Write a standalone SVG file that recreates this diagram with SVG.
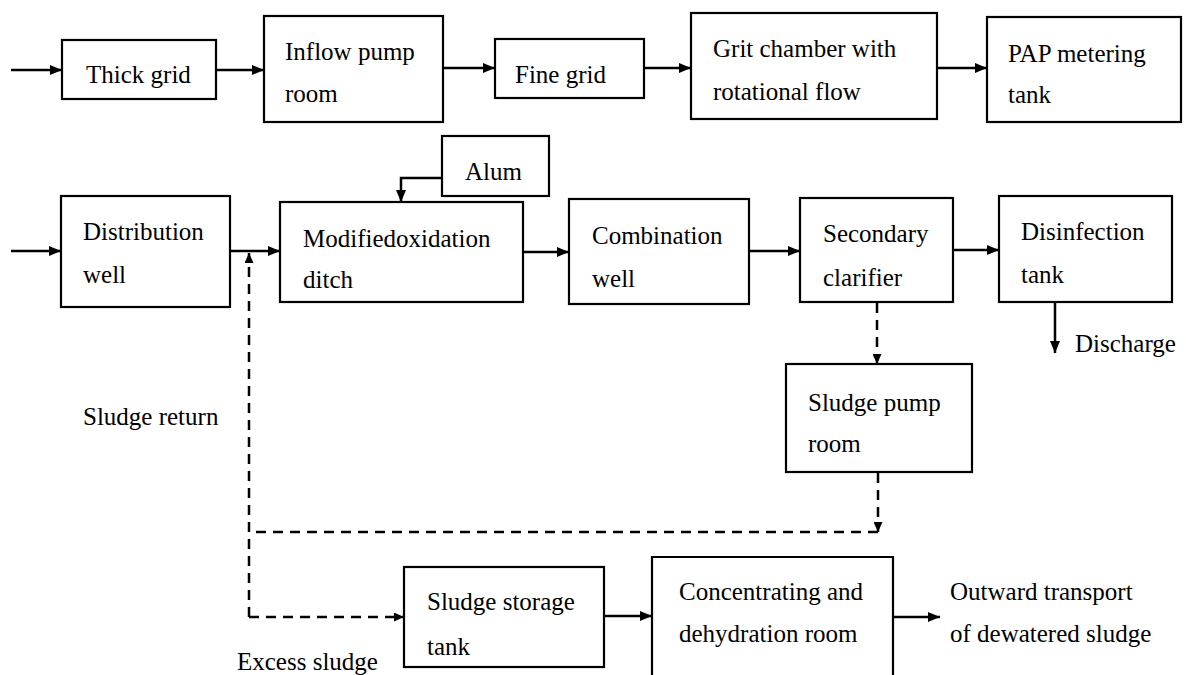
<svg xmlns="http://www.w3.org/2000/svg" width="1186" height="675" viewBox="0 0 1186 675">
<defs>
<marker id="ah" markerUnits="userSpaceOnUse" markerWidth="12" markerHeight="10" refX="12" refY="5" orient="auto">
<path d="M0,0 L12,5 L0,10 z" fill="#000"/>
</marker>
<marker id="ahs" markerUnits="userSpaceOnUse" markerWidth="10" markerHeight="9" refX="10" refY="4.5" orient="auto">
<path d="M0,0 L10,4.5 L0,9 z" fill="#000"/>
</marker>
<style>
.box{fill:#fff;stroke:#000;stroke-width:2.2}
.t{font-family:'Liberation Serif','DejaVu Serif',serif;font-size:25px;fill:#000}
.c{fill:none;stroke:#000;stroke-width:2.5;marker-end:url(#ah)}
.d{fill:none;stroke:#000;stroke-width:2.5;stroke-dasharray:10 7}
.da{fill:none;stroke:#000;stroke-width:2.5;stroke-dasharray:10 7;marker-end:url(#ahs)}
</style>
</defs>
<rect width="1186" height="675" fill="#fff"/>

<g id="connectors">
<path class="c" d="M11,70 H62"/>
<path class="c" d="M216,70 H264"/>
<path class="c" d="M443,68 H495"/>
<path class="c" d="M644,68 H691"/>
<path class="c" d="M937,68 H987"/>
<path class="c" d="M442,178 H401 V202"/>
<path class="c" d="M11,251 H61"/>
<path class="c" d="M230,251 H280"/>
<path class="c" d="M523,252 H569"/>
<path class="c" d="M749,251 H800"/>
<path class="c" d="M953,250 H999"/>
<path class="c" d="M1055,302 V353"/>
<path class="da" d="M877,303 V364"/>
<path class="da" d="M878,473 V532"/>
<path class="d" d="M878,532 H249"/>
<path class="da" d="M249,617 V253"/>
<path class="da" d="M249,617 H404"/>
<path class="c" d="M604,616 H652"/>
<path class="c" d="M893,617 H940"/>
</g>

<g id="thick-grid">
<rect class="box" x="62" y="40" width="154" height="59"/>
<text class="t" font-family="Liberation Serif, serif" x="86" y="83">Thick grid</text>
</g>
<g id="inflow-pump-room">
<rect class="box" x="264" y="16" width="179" height="106"/>
<text class="t" x="285" y="60">Inflow pump</text>
<text class="t" x="285" y="102">room</text>
</g>
<g id="fine-grid">
<rect class="box" x="495" y="39" width="149" height="59"/>
<text class="t" x="515" y="83">Fine grid</text>
</g>
<g id="grit-chamber">
<rect class="box" x="691" y="13" width="246" height="106"/>
<text class="t" x="713" y="57">Grit chamber with</text>
<text class="t" x="713" y="100">rotational flow</text>
</g>
<g id="pap-metering-tank">
<rect class="box" x="987" y="17" width="194" height="105"/>
<text class="t" x="1008" y="62">PAP metering</text>
<text class="t" x="1008" y="103">tank</text>
</g>
<g id="alum">
<rect class="box" x="442" y="136" width="107" height="60"/>
<text class="t" x="465" y="180">Alum</text>
</g>
<g id="distribution-well">
<rect class="box" x="61" y="196" width="169" height="111"/>
<text class="t" x="83" y="240">Distribution</text>
<text class="t" x="83" y="283">well</text>
</g>
<g id="modified-oxidation-ditch">
<rect class="box" x="280" y="202" width="243" height="100"/>
<text class="t" x="303" y="247">Modifiedoxidation</text>
<text class="t" x="303" y="288">ditch</text>
</g>
<g id="combination-well">
<rect class="box" x="569" y="199" width="180" height="105"/>
<text class="t" x="592" y="244">Combination</text>
<text class="t" x="592" y="287">well</text>
</g>
<g id="secondary-clarifier">
<rect class="box" x="800" y="198" width="153" height="104"/>
<text class="t" x="823" y="242">Secondary</text>
<text class="t" x="823" y="286">clarifier</text>
</g>
<g id="disinfection-tank">
<rect class="box" x="999" y="196" width="173" height="106"/>
<text class="t" x="1021" y="240">Disinfection</text>
<text class="t" x="1021" y="283">tank</text>
</g>
<g id="discharge">
<text class="t" x="1075" y="352">Discharge</text>
</g>
<g id="sludge-pump-room">
<rect class="box" x="786" y="364" width="186" height="108"/>
<text class="t" x="808" y="411">Sludge pump</text>
<text class="t" x="808" y="452">room</text>
</g>
<g id="sludge-return">
<text class="t" x="83" y="425">Sludge return</text>
</g>
<g id="sludge-storage-tank">
<rect class="box" x="404" y="567" width="200" height="100"/>
<text class="t" x="427" y="610">Sludge storage</text>
<text class="t" x="427" y="655">tank</text>
</g>
<g id="concentrating-dehydration-room">
<path class="box" d="M652,680 V557 H893 V680"/>
<text class="t" x="679" y="600">Concentrating and</text>
<text class="t" x="679" y="642">dehydration room</text>
</g>
<g id="outward-transport">
<text class="t" x="950" y="600">Outward transport</text>
<text class="t" x="950" y="642">of dewatered sludge</text>
</g>
<g id="excess-sludge">
<text class="t" x="237" y="670">Excess sludge</text>
</g>
</svg>
